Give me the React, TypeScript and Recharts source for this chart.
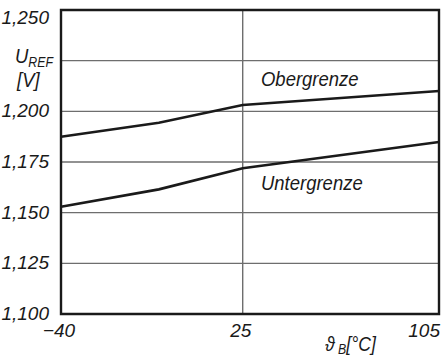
import { LineChart, Line, XAxis, YAxis, CartesianGrid, ReferenceArea } from "recharts";

const temps = [-40, -5, 25, 105];
const obergrenze = [1.1875, 1.1944, 1.2031, 1.21];
const untergrenze = [1.1529, 1.1615, 1.1719, 1.1849];
const xTicks = [-40, 25, 105];
const yTicks = [1.1, 1.125, 1.15, 1.175, 1.2, 1.225, 1.25];
// the 1,225 slot carries the axis unit instead of a number
const hiddenYLabels = [1.225];

// the original axis is not linear: 25 °C sits at ~48 % of the width
const KNEE = 0.4807;
const toPos = (t: number) =>
  t <= 25 ? ((t + 40) / 65) * KNEE : KNEE + ((t - 25) / 80) * (1 - KNEE);

const data = temps.map((t, i) => ({
  pos: toPos(t),
  ober: obergrenze[i],
  unter: untergrenze[i],
}));

const FONT = "'Liberation Sans', Arial, sans-serif";
const INK = "#1a1a1a";

const XTick = (props: any) => {
  const { x, y, index } = props;
  const t = xTicks[index];
  const label = t < 0 ? `\u2212${Math.abs(t)}` : `${t}`;
  const last = index === xTicks.length - 1;
  return (
    <text x={last ? x + 1 : x - 2} y={y + 15} textAnchor={last ? "end" : "middle"} fontSize={19} fontStyle="italic" fontFamily={FONT} fill={INK}>
      {label}
    </text>
  );
};

const YTick = (props: any) => {
  const { x, y, payload } = props;
  if (hiddenYLabels.includes(payload.value)) return <g />;
  const yy = Math.max(y, 18);
  return (
    <text x={x - 4} y={yy + 6} textAnchor="end" fontSize={19} fontStyle="italic" fontFamily={FONT} fill={INK}>
      {payload.value.toFixed(3).replace(".", ",")}
    </text>
  );
};

const overlay = (left: number, top: number, size: number): React.CSSProperties => ({
  position: "absolute",
  left,
  top,
  fontSize: size,
  fontStyle: "italic",
  fontFamily: FONT,
  color: INK,
  lineHeight: 1,
  whiteSpace: "nowrap",
  transform: "scaleX(0.88)",
  transformOrigin: "left top",
});

export default function App() {
  return (
    <div style={{ position: "absolute", left: 0, top: 0, width: 441, height: 358, background: "#fff", overflow: "hidden" }}>
      <LineChart width={441} height={358} data={data} margin={{ top: 10, right: 2, left: 0, bottom: 0 }}>
        <CartesianGrid stroke="#6e6e6e" strokeWidth={1.4} />
        <XAxis
          type="number"
          dataKey="pos"
          domain={[0, 1]}
          ticks={xTicks.map(toPos)}
          height={44}
          axisLine={false}
          tickLine={false}
          tick={<XTick />}
          interval={0}
        />
        <YAxis
          type="number"
          domain={[1.1, 1.25]}
          ticks={yTicks}
          width={61}
          axisLine={false}
          tickLine={false}
          tick={<YTick />}
          interval={0}
        />
        <ReferenceArea x1={0} x2={1} y1={1.1} y2={1.25} fill="none" stroke={INK} strokeWidth={2.4} />
        <Line dataKey="ober" stroke={INK} strokeWidth={2.6} dot={false} isAnimationActive={false} />
        <Line dataKey="unter" stroke={INK} strokeWidth={2.6} dot={false} isAnimationActive={false} />
      </LineChart>

      <div style={overlay(15, 45, 21)}>
        U<span style={{ fontSize: 14, verticalAlign: -4 }}>REF</span>
      </div>
      <div style={overlay(17, 69, 21)}>[V]</div>
      <div style={overlay(261, 68, 21)}>Obergrenze</div>
      <div style={overlay(261, 172, 21)}>Untergrenze</div>
      <div style={overlay(325, 334, 20)}>
        ϑ<span style={{ fontSize: 14, verticalAlign: -3 }}> B</span>[°C]
      </div>
    </div>
  );
}
